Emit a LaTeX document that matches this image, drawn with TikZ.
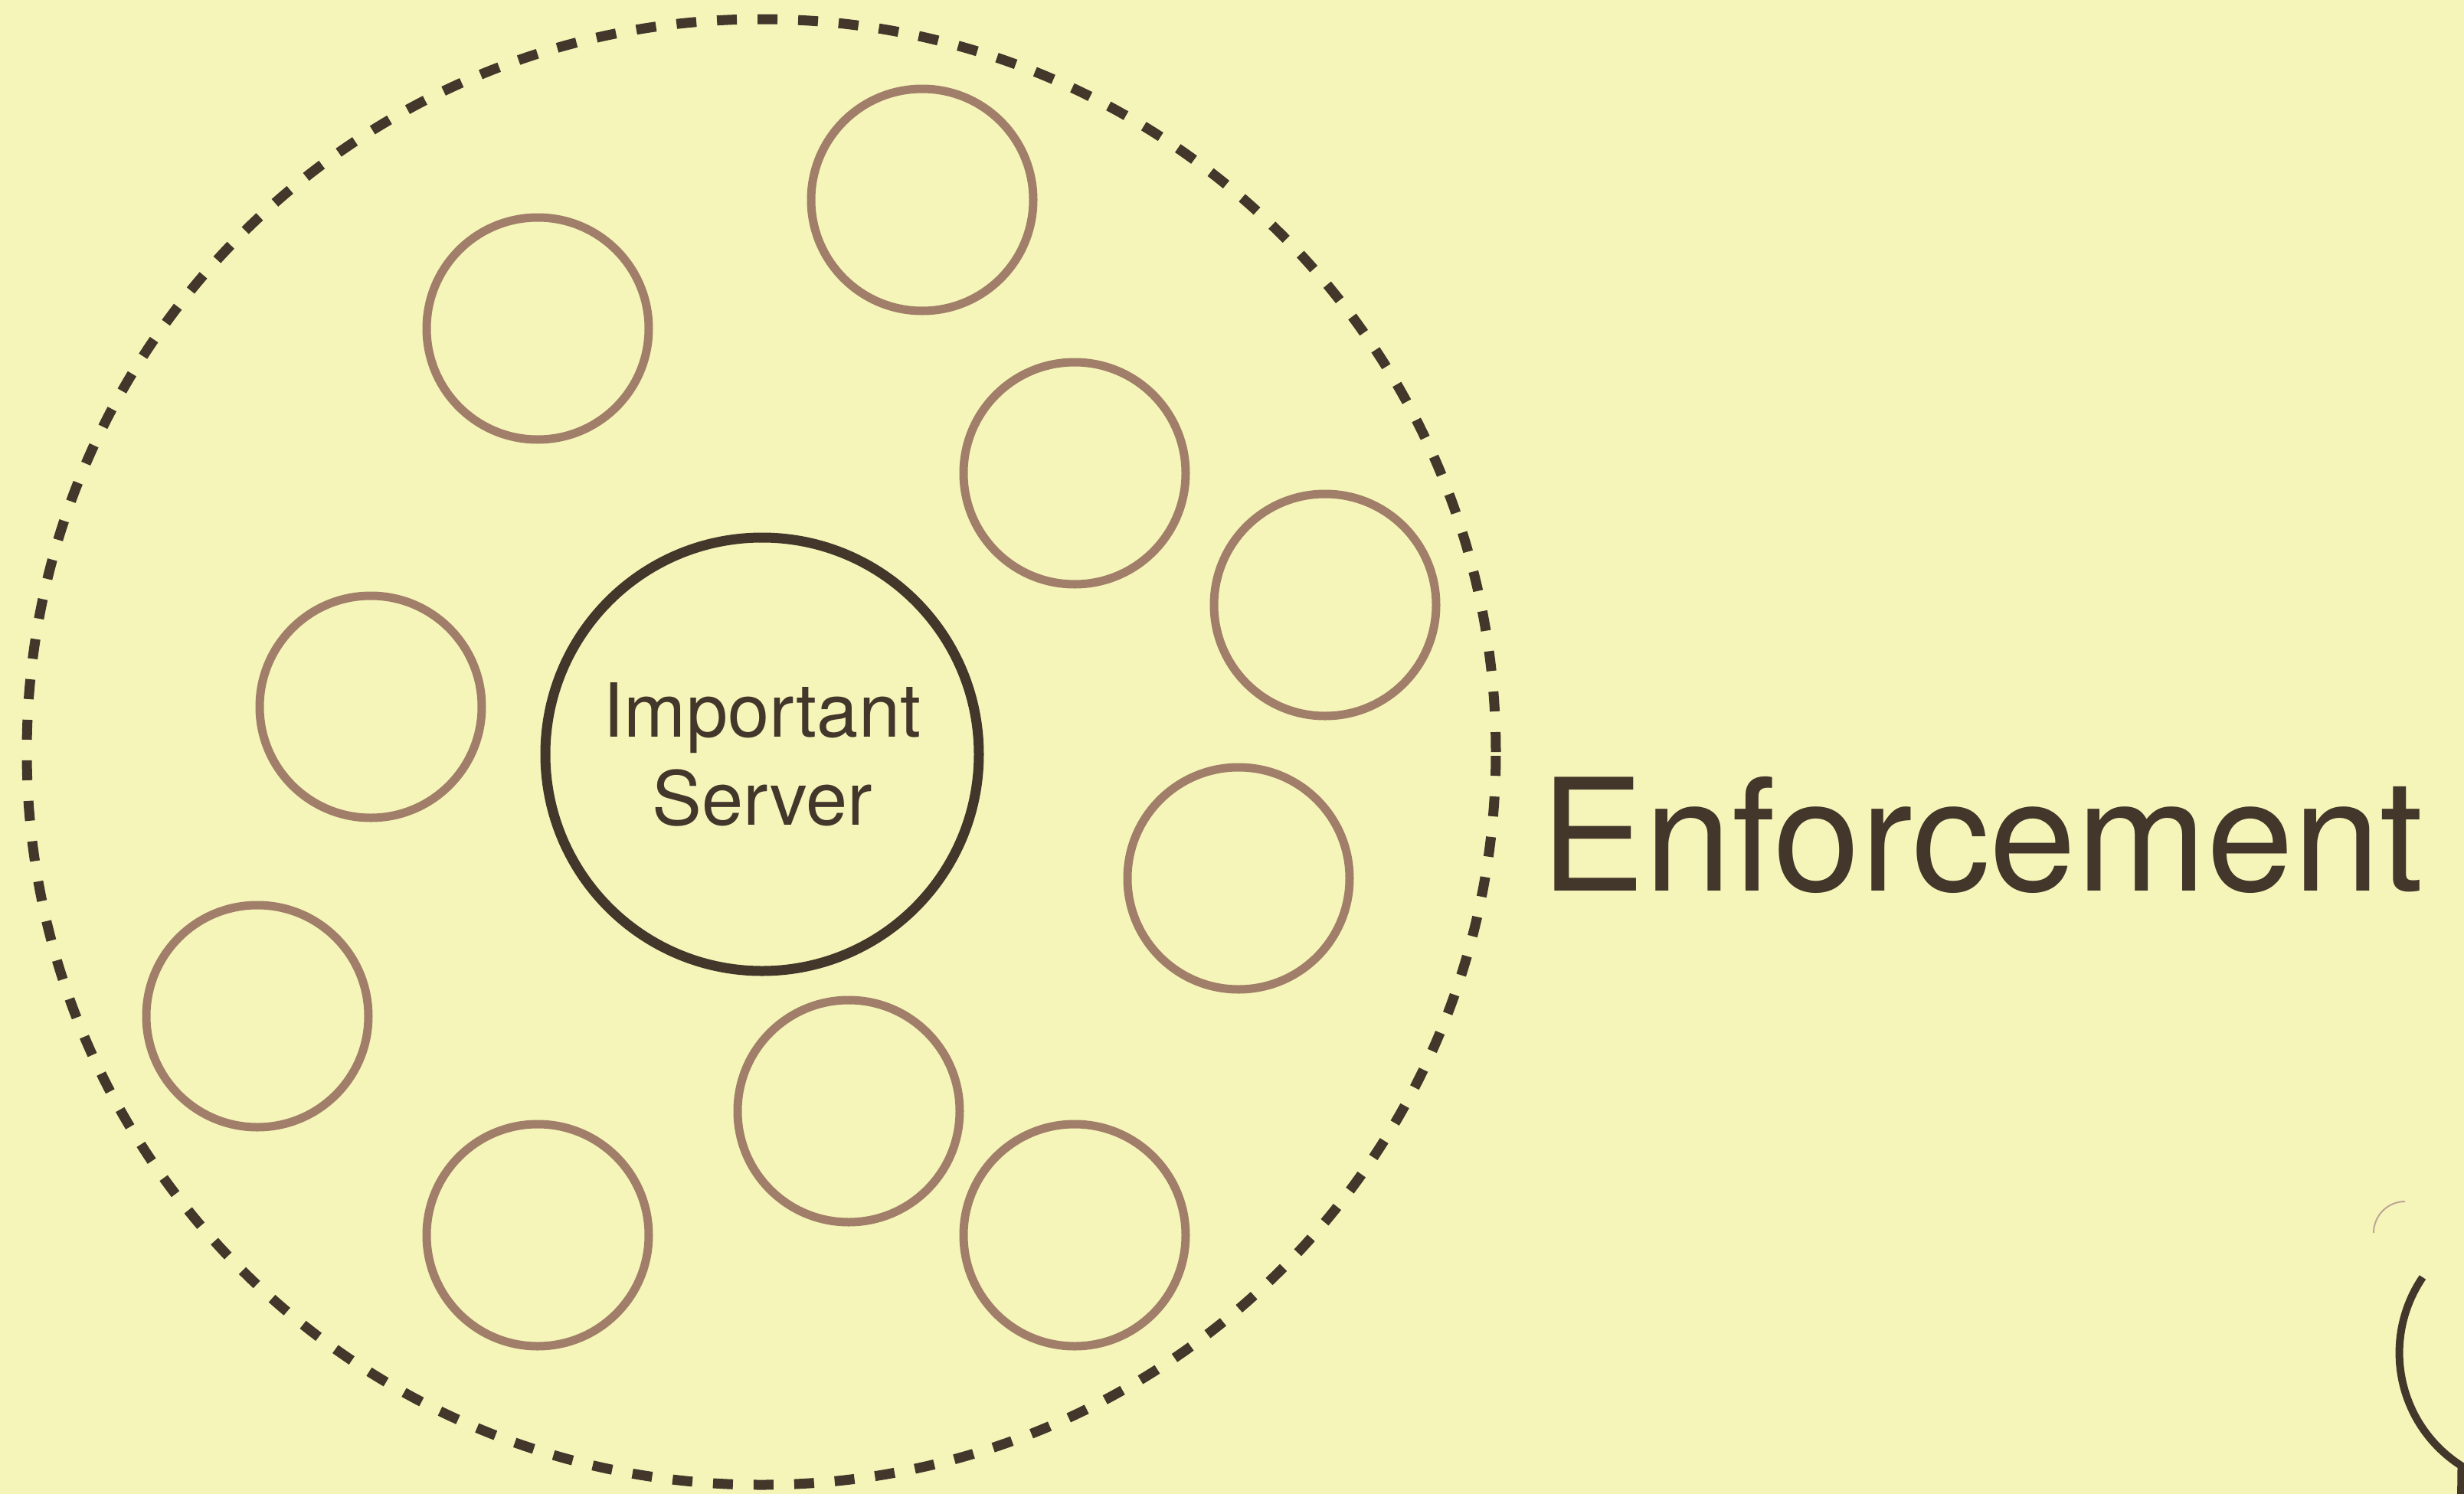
\documentclass[tikz,border=0pt]{standalone}
\usepackage{fontspec}
\setmainfont{TeX Gyre Heros}
\usetikzlibrary{shapes,positioning}
\definecolor{padyellow}{RGB}{245,245,185}
\definecolor{inkbrown}{RGB}{67,54,42}
\definecolor{ringtan}{RGB}{161,126,105}

\begin{document}
\begin{tikzpicture}[client/.style={circle,draw=ringtan,line width=1.1mm,minimum size=2.9cm,inner sep=0pt},
		server/.style={circle,draw=inkbrown,line width=1.3mm,minimum size=5.66cm,align=center,text=inkbrown,font=\fontsize{27.7pt}{32.7pt}\selectfont},
		zone/.style={ellipse,draw=inkbrown,line width=1.3mm,dash pattern=on 2.6mm off 2.7mm,minimum width=19.18cm,minimum height=19.14cm,inner sep=0pt}]
			% page and background
			\fill[padyellow] (0,0) rectangle (32.17,-19.51);
			\useasboundingbox (0,0) rectangle (32.17,-19.51);

			\node[zone]   (Zone)    at (9.94,-9.82)  {};
			\node[server] (Server)  at (9.95,-9.85)  {Important\\Server};

			\node[client] (Client1)  at (12.04,-2.61)  {};
			\node[client] (Client2)  at (7.02,-4.29)   {};
			\node[client] (Client3)  at (14.03,-6.18)  {};
			\node[client] (Client4)  at (17.30,-7.90)  {};
			\node[client] (Client5)  at (4.84,-9.23)   {};
			\node[client] (Client6)  at (16.17,-11.47) {};
			\node[client] (Client7)  at (3.36,-13.27)  {};
			\node[client] (Client8)  at (11.08,-14.51) {};
			\node[client] (Client9)  at (7.02,-16.13)  {};
			\node[client] (Client10) at (14.03,-16.13) {};

			\node[anchor=base west,inner sep=0pt,text=inkbrown,font=\fontsize{58pt}{60pt}\selectfont] (Title) at (20.11,-11.63) {Enforcement};

			% cut-off shapes at the lower right edge
			\draw[ringtan!70,line width=0.2mm] (30.99,-16.10) arc (180:90:0.41);
			\draw[inkbrown,line width=1mm] (31.63,-16.68) arc (145.7:237.5:1.75) -- (32.13,-19.6);
		\end{tikzpicture}
\end{document}
